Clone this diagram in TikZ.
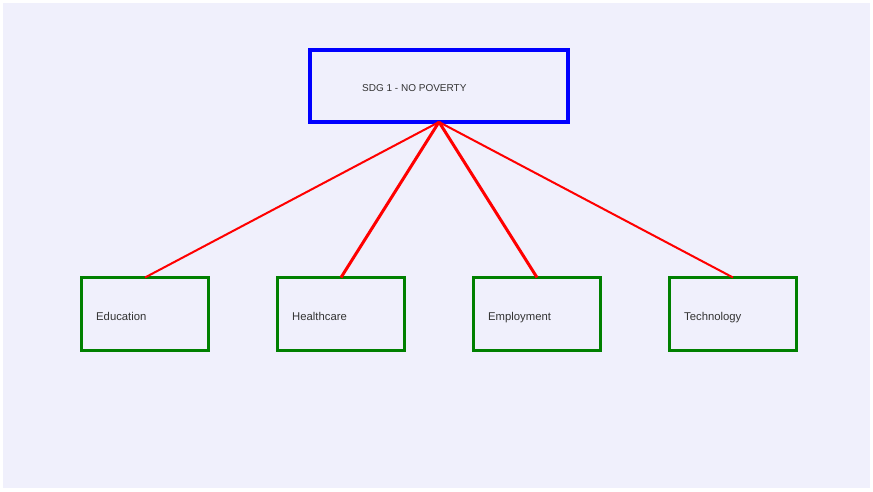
\documentclass[tikz,border=0pt]{standalone}
\usepackage{fontspec}
\setmainfont{Liberation Sans}
\definecolor{bgc}{HTML}{F0F0FC}
\definecolor{txt}{HTML}{333333}
\definecolor{grn}{HTML}{008000}
\begin{document}
\begin{tikzpicture}[x=1pt,y=-1pt,
  topbox/.style={draw=blue,line width=4pt,rectangle,inner sep=0pt,outer sep=0pt,minimum width=258pt,minimum height=72pt},
  subbox/.style={draw=grn,line width=3pt,rectangle,inner sep=0pt,outer sep=0pt,minimum width=127pt,minimum height=73pt},
  lbl/.style={anchor=base west,inner sep=0pt,text=txt,font=\fontsize{11.3}{13}\selectfont},
  toplbl/.style={anchor=base west,inner sep=0pt,text=txt,font=\fontsize{10}{12}\selectfont},
  thinlink/.style={draw=red,line width=2pt},
  thicklink/.style={draw=red,line width=3pt}]
\useasboundingbox (0,0) rectangle (873,491);
\fill[white] (0,0) rectangle (873,491);
\fill[bgc] (3,3) rectangle (870,488);
\node[topbox] (sdg) at (439,86) {};
\node[toplbl] (sdgt) at (362,91) {SDG 1 - NO POVERTY};
\node[subbox] (edu) at (145,314) {};
\node[subbox] (hea) at (341,314) {};
\node[subbox] (emp) at (537,314) {};
\node[subbox] (tec) at (733,314) {};
\node[lbl] (edut) at (96,320) {Education};
\node[lbl] (heat) at (292,320) {Healthcare};
\node[lbl] (empt) at (488,320) {Employment};
\node[lbl] (tect) at (684,320) {Technology};
\draw[thinlink] (sdg.south) -- (edu.north);
\draw[thicklink] (sdg.south) -- (hea.north);
\draw[thicklink] (sdg.south) -- (emp.north);
\draw[thinlink] (sdg.south) -- (tec.north);
\end{tikzpicture}
\end{document}
